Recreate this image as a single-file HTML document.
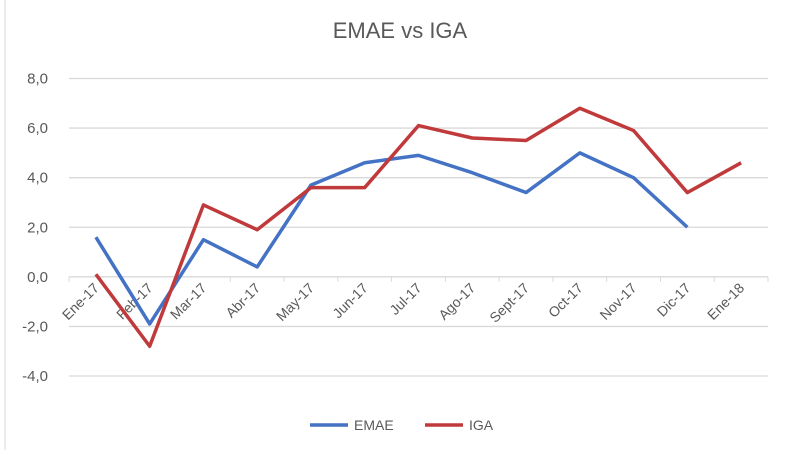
<!DOCTYPE html>
<html><head><meta charset="utf-8"><style>
body{margin:0;background:#fff;}
svg{display:block;font-family:"Liberation Sans",sans-serif;}
</style></head><body>
<svg id="chart" width="800" height="450">
<rect x="0" y="0" width="800" height="450" fill="#fff"/>
<line x1="5" y1="0" x2="5" y2="450" stroke="#d9d9d9"/>
<text x="400" y="38" text-anchor="middle" font-size="22" fill="#595959">EMAE vs IGA</text>
<g id="grid"></g><g id="ylabels"></g><g id="xlabels"></g><g id="series"></g>
<g>
<g><line x1="310" y1="425" x2="348" y2="425" stroke="#4472c4" stroke-width="3.5"/><text x="354" y="430" font-size="14" fill="#595959">EMAE</text></g>
<g><line x1="425" y1="425" x2="463" y2="425" stroke="#c0393b" stroke-width="3.5"/><text x="469" y="430" font-size="14" fill="#595959">IGA</text></g>
</g>
</svg>
<script>
const categories=["Ene-17","Feb-17","Mar-17","Abr-17","May-17","Jun-17","Jul-17","Ago-17","Sept-17","Oct-17","Nov-17","Dic-17","Ene-18"];
const emae=[1.6,-1.9,1.5,0.4,3.7,4.6,4.9,4.2,3.4,5.0,4.0,2.0,null];
const iga=[0.1,-2.8,2.9,1.9,3.6,3.6,6.1,5.6,5.5,6.8,5.9,3.4,4.6];
const yTicks=[8,6,4,2,0,-2,-4];
const x0=69,x1=768,yTop=78.5,yBot=376;
const ymin=-4,ymax=8;
const bw=(x1-x0)/categories.length;
const xs=i=>x0+bw*(i+0.5);
const ys=v=>yBot-(v-ymin)/(ymax-ymin)*(yBot-yTop);
const NS="http://www.w3.org/2000/svg";
function mk(t,a,p){const e=document.createElementNS(NS,t);for(const k in a)e.setAttribute(k,a[k]);p.appendChild(e);return e;}
const grid=document.getElementById('grid'),yl=document.getElementById('ylabels'),xl=document.getElementById('xlabels'),se=document.getElementById('series');
yTicks.forEach(v=>{
 const l=mk('line',{x1:x0,x2:x1,y1:ys(v),y2:ys(v),stroke:'#d9d9d9','stroke-width':1.3},grid);
 
 
 const t=mk('text',{x:48,y:ys(v)+5,'text-anchor':'end','font-size':15,fill:'#595959'},yl);
 t.textContent=v.toFixed(1).replace('.',',');
 
 
});
for(let i=0;i<=categories.length;i++){
 const tk=mk('line',{x1:x0+bw*i,x2:x0+bw*i,y1:ys(0),y2:ys(0)+5,stroke:'#d9d9d9'},grid);
 
 
}
categories.forEach((c,i)=>{
 const x=xs(i)+4,y=ys(0)+12;
 const t=mk('text',{x:x,y:y,'text-anchor':'end','font-size':14,fill:'#595959',transform:`rotate(-45 ${x} ${y})`},xl);
 t.textContent=c;
 
 
});
function line(vals,color,name){
 let d='';vals.forEach((v,i)=>{if(v===null)return;d+=(d?'L':'M')+xs(i)+','+ys(v);});
 const p=mk('path',{d:d,fill:'none',stroke:color,'stroke-width':3.5,'stroke-linejoin':'round'},se);
 
 
}
line(emae,'#4472c4','emae-line');
line(iga,'#c0393b','iga-line');
</script>
</body></html>
